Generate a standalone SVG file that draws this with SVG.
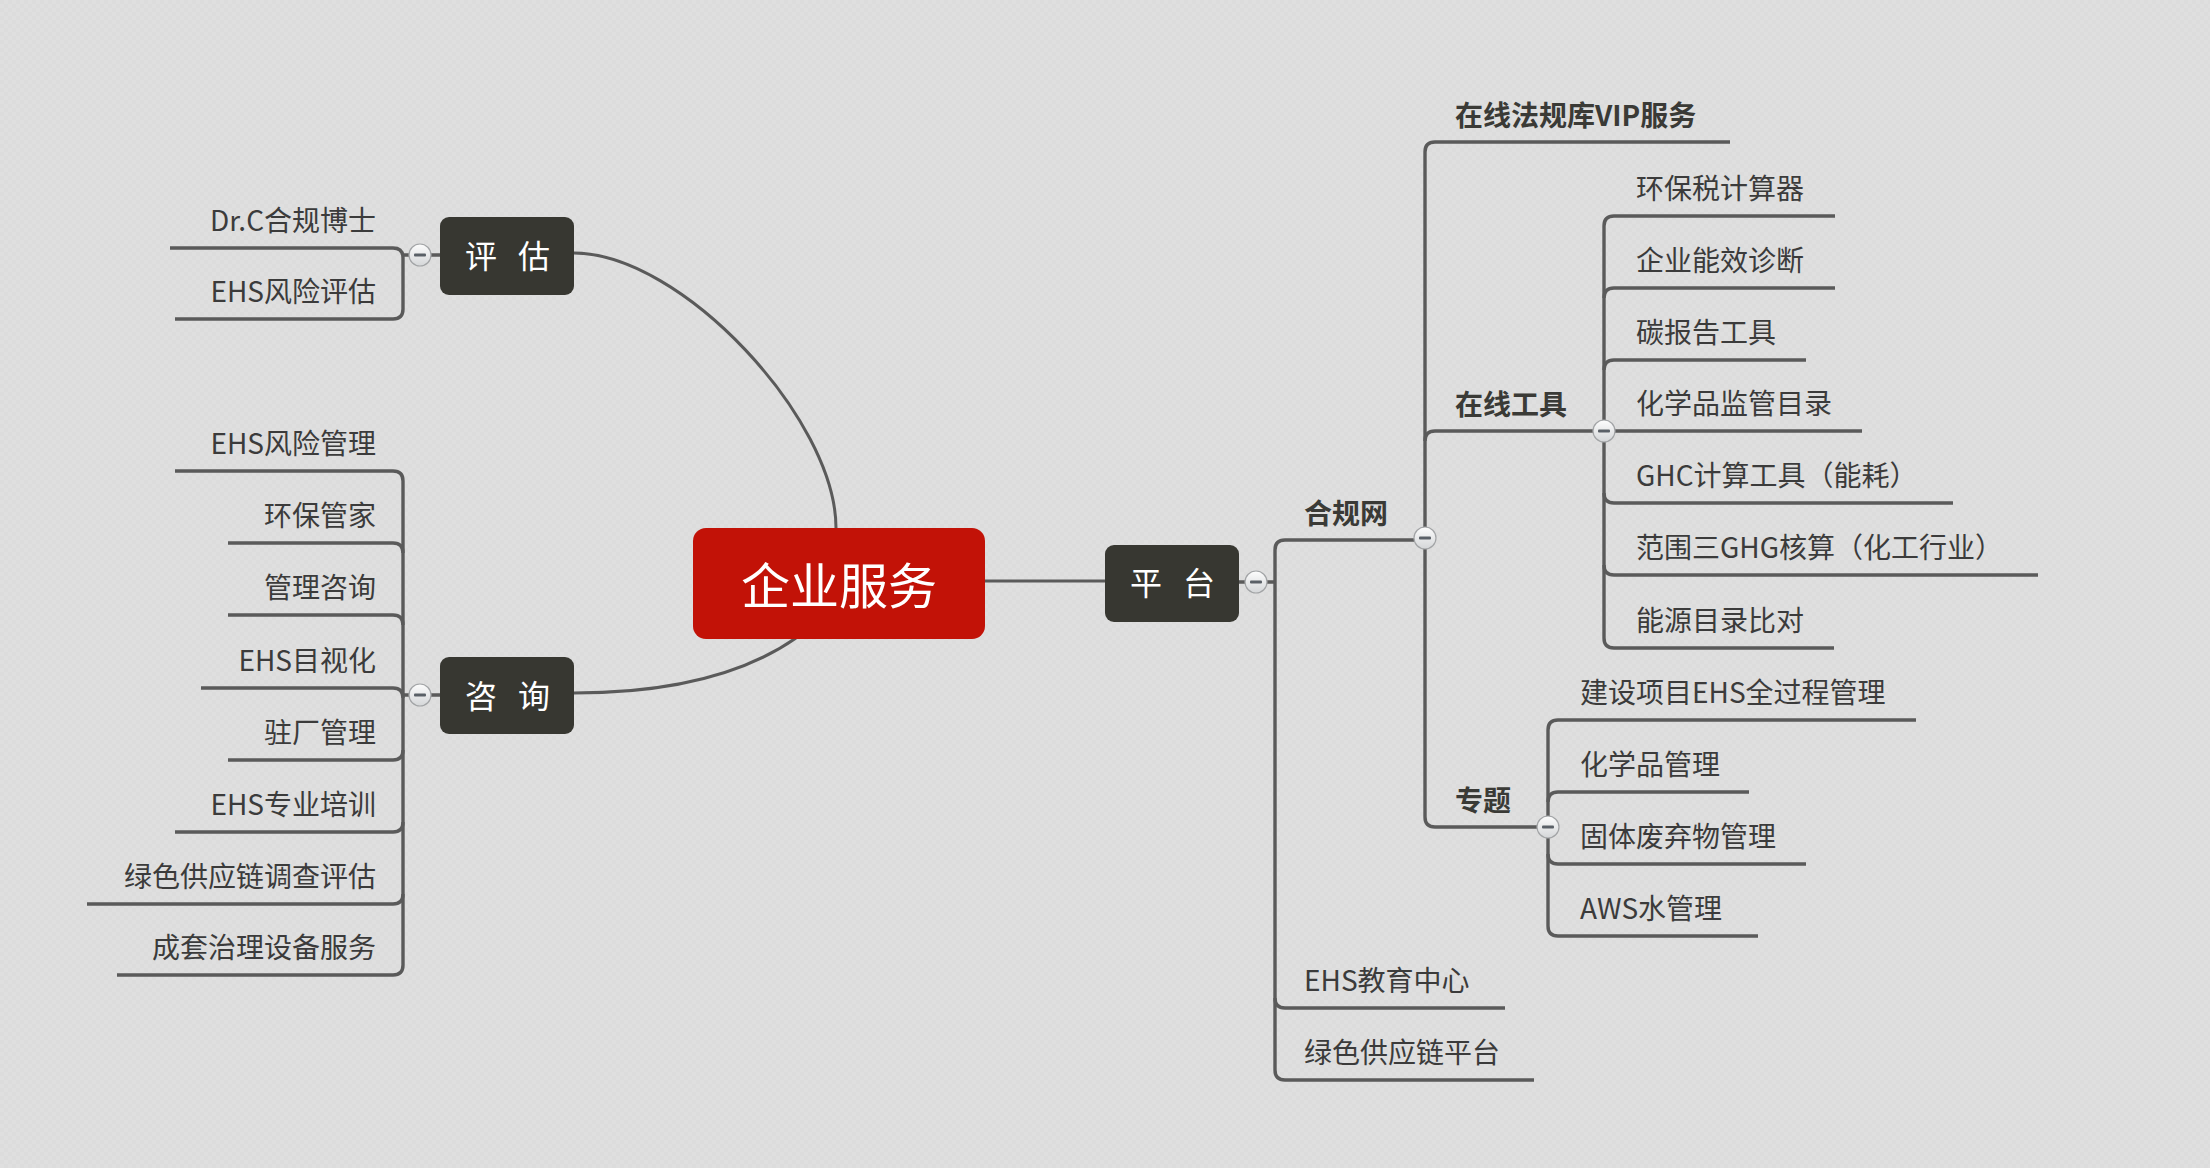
<svg xmlns="http://www.w3.org/2000/svg" width="2210" height="1168" viewBox="0 0 2210 1168">
<defs>
<linearGradient id="btn" x1="0" y1="0" x2="0" y2="1">
<stop offset="0" stop-color="#fdfdfd"/>
<stop offset="1" stop-color="#d4d6d8"/>
</linearGradient>
<pattern id="bgp" width="8" height="8" patternUnits="userSpaceOnUse">
<rect width="8" height="8" fill="#dfdfdf"/>
<rect width="4" height="4" fill="#dcdcdc"/>
<rect x="4" y="4" width="4" height="4" fill="#dcdcdc"/>
</pattern>
<g id="minus">
<circle r="11" fill="url(#btn)" stroke="#a2a4a6" stroke-width="1.2"/>
<rect x="-6" y="-1.6" width="12" height="3.2" rx="1" fill="#5a6067"/>
</g>
</defs>
<style>
.ln{fill:none;stroke:#5a5a5a;stroke-width:3.4;stroke-linecap:butt;stroke-linejoin:round}
.cv{fill:none;stroke:#5a5a5a;stroke-width:3}
.t{font-family:"Noto Sans CJK SC","Noto Sans",sans-serif;font-size:28px;fill:#3b3b3b}
.b{font-family:"Noto Sans CJK SC","Noto Sans",sans-serif;font-size:28px;font-weight:bold;fill:#3a3a36}
.r{text-anchor:end}
.box{fill:#373731}
.bt{font-family:"Noto Sans CJK SC","Noto Sans",sans-serif;font-size:32px;fill:#ffffff;text-anchor:middle;letter-spacing:7px}
</style>
<rect width="2210" height="1168" fill="url(#bgp)"/>

<g id="connectors">
<path class="cv" d="M 574 253 C 681 253 836 419 836 528"/>
<path class="cv" d="M 574 693 C 680 693 750 670 796 638"/>
<path class="cv" d="M 984 581 H 1105"/>

<path class="ln" d="M 403 255 H 440"/>
<path class="ln" d="M 170 248 H 393 Q 403 248 403 258 V 309 Q 403 319 393 319 H 175"/>

<path class="ln" d="M 403 695 H 440"/>
<path class="ln" d="M 403 481 V 965"/>
<path class="ln" d="M 175 471 H 393 Q 403 471 403 481"/>
<path class="ln" d="M 228 543 H 393 Q 403 543 403 553"/>
<path class="ln" d="M 228 615 H 393 Q 403 615 403 625"/>
<path class="ln" d="M 201 688 H 393 Q 403 688 403 698"/>
<path class="ln" d="M 228 760 H 393 Q 403 760 403 750"/>
<path class="ln" d="M 175 832 H 393 Q 403 832 403 822"/>
<path class="ln" d="M 87 904 H 393 Q 403 904 403 894"/>
<path class="ln" d="M 117 975 H 393 Q 403 975 403 965"/>

<path class="ln" d="M 1239 582 H 1275"/>
<path class="ln" d="M 1275 550 V 1070"/>
<path class="ln" d="M 1425 540 H 1285 Q 1275 540 1275 550"/>
<path class="ln" d="M 1505 1008 H 1285 Q 1275 1008 1275 998"/>
<path class="ln" d="M 1534 1080 H 1285 Q 1275 1080 1275 1070"/>

<path class="ln" d="M 1425 152 V 817"/>
<path class="ln" d="M 1730 142 H 1435 Q 1425 142 1425 152"/>
<path class="ln" d="M 1604 431 H 1435 Q 1425 431 1425 441"/>
<path class="ln" d="M 1548 827 H 1435 Q 1425 827 1425 817"/>

<path class="ln" d="M 1604 226 V 638"/>
<path class="ln" d="M 1835 216 H 1614 Q 1604 216 1604 226"/>
<path class="ln" d="M 1835 288 H 1614 Q 1604 288 1604 298"/>
<path class="ln" d="M 1806 360 H 1614 Q 1604 360 1604 370"/>
<path class="ln" d="M 1604 431 H 1862"/>
<path class="ln" d="M 1953 503 H 1614 Q 1604 503 1604 493"/>
<path class="ln" d="M 2038 575 H 1614 Q 1604 575 1604 565"/>
<path class="ln" d="M 1834 648 H 1614 Q 1604 648 1604 638"/>

<path class="ln" d="M 1548 730 V 926"/>
<path class="ln" d="M 1916 720 H 1558 Q 1548 720 1548 730"/>
<path class="ln" d="M 1749 792 H 1558 Q 1548 792 1548 802"/>
<path class="ln" d="M 1806 864 H 1558 Q 1548 864 1548 854"/>
<path class="ln" d="M 1758 936 H 1558 Q 1548 936 1548 926"/>

<use href="#minus" x="420" y="255"/>
<use href="#minus" x="420" y="695"/>
<use href="#minus" x="1256" y="582"/>
<use href="#minus" x="1425" y="538"/>
<use href="#minus" x="1604" y="431"/>
<use href="#minus" x="1548" y="827"/>
</g>

<g id="root">
<rect x="693" y="528" width="292" height="111" rx="13" fill="#c21207"/>
<text x="839" y="604" font-family="Noto Sans CJK SC, sans-serif" font-size="49" fill="#ffffff" text-anchor="middle">企业服务</text>
</g>

<g id="pinggu">
<rect class="box" x="440" y="217" width="134" height="78" rx="9"/>
<text class="bt" x="511" y="268">评 估</text>
</g>
<g id="zixun">
<rect class="box" x="440" y="657" width="134" height="77" rx="9"/>
<text class="bt" x="511" y="708">咨 询</text>
</g>
<g id="pingtai">
<rect class="box" x="1105" y="545" width="134" height="77" rx="9"/>
<text class="bt" x="1176" y="595">平 台</text>
</g>

<g id="pinggu-children">
<text class="t r" x="376" y="231">Dr.C合规博士</text>
<text class="t r" x="376" y="302">EHS风险评估</text>
</g>

<g id="zixun-children">
<text class="t r" x="376" y="454">EHS风险管理</text>
<text class="t r" x="376" y="526">环保管家</text>
<text class="t r" x="376" y="598">管理咨询</text>
<text class="t r" x="376" y="671">EHS目视化</text>
<text class="t r" x="376" y="743">驻厂管理</text>
<text class="t r" x="376" y="815">EHS专业培训</text>
<text class="t r" x="376" y="887">绿色供应链调查评估</text>
<text class="t r" x="376" y="958">成套治理设备服务</text>
</g>

<g id="heguiwang">
<text class="b" x="1304" y="524">合规网</text>
</g>
<g id="pingtai-children">
<text class="t" x="1304" y="991">EHS教育中心</text>
<text class="t" x="1304" y="1063">绿色供应链平台</text>
</g>

<g id="heguiwang-children">
<text class="b" x="1455" y="126">在线法规库VIP服务</text>
<text class="b" x="1455" y="415">在线工具</text>
<text class="b" x="1455" y="811">专题</text>
</g>

<g id="tools-children">
<text class="t" x="1636" y="199">环保税计算器</text>
<text class="t" x="1636" y="271">企业能效诊断</text>
<text class="t" x="1636" y="343">碳报告工具</text>
<text class="t" x="1636" y="414">化学品监管目录</text>
<text class="t" x="1636" y="486">GHC计算工具（能耗）</text>
<text class="t" x="1636" y="558">范围三GHG核算（化工行业）</text>
<text class="t" x="1636" y="631">能源目录比对</text>
</g>

<g id="topic-children">
<text class="t" x="1580" y="703">建设项目EHS全过程管理</text>
<text class="t" x="1580" y="775">化学品管理</text>
<text class="t" x="1580" y="847">固体废弃物管理</text>
<text class="t" x="1580" y="919">AWS水管理</text>
</g>
</svg>
